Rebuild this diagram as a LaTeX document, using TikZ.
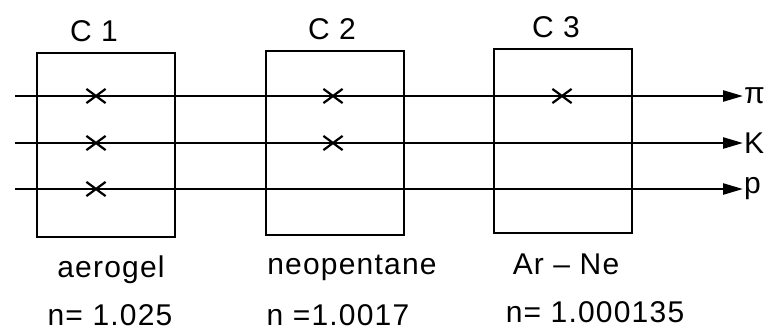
\documentclass[tikz,border=0pt]{standalone}
\usepackage{fontspec}
\setmainfont{Liberation Sans}[LetterSpace=4]
\usetikzlibrary{arrows.meta,positioning,shapes.misc}
\tikzset{
  radbox/.style={rectangle,draw=black,line width=2.2pt,
                 minimum width=138pt,minimum height=184pt},
  beam/.style={-{Triangle[length=20pt,width=11pt]},line width=2.4pt},
  ring/.style={cross out,draw=black,line width=2.2pt,
               minimum width=17pt,minimum height=12pt,inner sep=0pt},
  lbl/.style={font=\fontsize{30}{34}\selectfont,inner sep=1pt},
  tag/.style={lbl,anchor=west}
}
\begin{document}
\begin{tikzpicture}[x=1pt,y=-1pt]
  \useasboundingbox (0,0) rectangle (776,333);

  % radiators
  \node[radbox] (c1) at (106,145) {};
  \node[radbox] (c2) at (335,143) {};
  \node[radbox] (c3) at (563,141) {};

  \node[lbl] (t1) at (94,31) {C 1};
  \node[lbl] (t2) at (332,29) {C 2};
  \node[lbl] (t3) at (556,27) {C 3};

  \node[lbl] (m1) at (111,270) {aerogel};
  \node[lbl] (m2) at (352,268) {neopentane};
  \node[lbl] (m3) at (566,264) {Ar -- Ne};
  \node[lbl] (n1) at (110,315) {n= 1.025};
  \node[lbl] (n2) at (338,315) {n =1.0017};
  \node[lbl] (n3) at (595,312) {n= 1.000135};

  % particle tracks
  \foreach \i/\y/\t in {pi/96/π,ka/143/K,pr/189/p}{
    \coordinate (s\i) at (15,\y);
    \node[tag] (l\i) at (743,\y) {\t};
    \draw[beam] (s\i) -- (l\i.west);
  }

  % Cherenkov light
  \node[ring] (x11) at (96,96) {};
  \node[ring] (x12) at (96,143) {};
  \node[ring] (x13) at (96,189) {};
  \node[ring] (x21) at (333,96) {};
  \node[ring] (x22) at (333,143) {};
  \node[ring] (x31) at (562,96) {};

\end{tikzpicture}
\end{document}
